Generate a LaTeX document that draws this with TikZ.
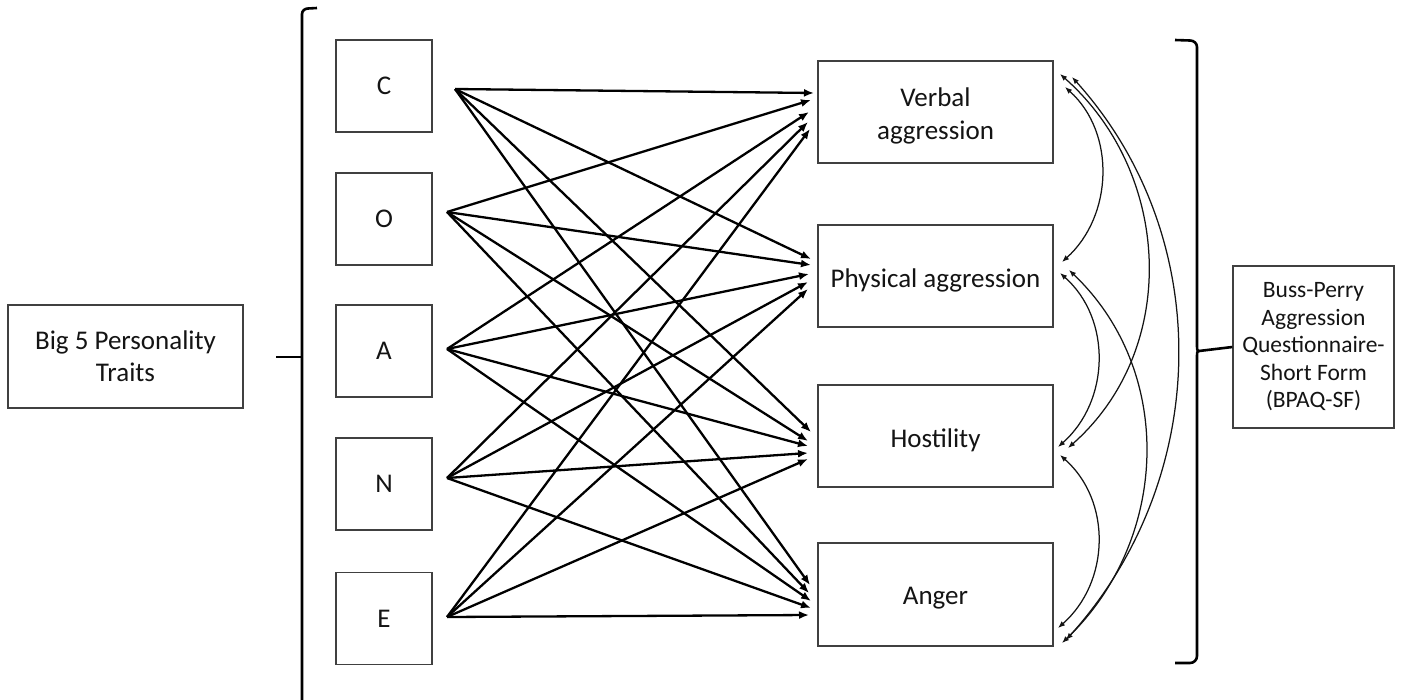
\documentclass[tikz,border=0pt]{standalone}
\usepackage{fontspec}
\setmainfont{Carlito}
\usetikzlibrary{arrows.meta,calc}
\definecolor{boxgray}{HTML}{404040}
\definecolor{txt}{HTML}{141414}
\begin{document}
\begin{tikzpicture}[x=1pt,y=-1pt,
  box/.style={draw=boxgray,line width=1.3pt,fill=white,inner sep=0pt,align=center,
    text=txt,font=\fontsize{27}{32}\selectfont},
  trait/.style={box,minimum width=96pt,minimum height=92pt},
  subscale/.style={box,minimum width=235pt,minimum height=102pt},
  lab/.style={yshift=-4pt,align=center,text=txt,font=\fontsize{27}{33}\selectfont},
  link/.style={line width=2.3pt,-{Latex[length=10pt,width=8pt]}},
  corr/.style={line width=1.25pt,draw=txt,{Latex[length=7pt,width=5.5pt]}-{Latex[length=7pt,width=5.5pt]}},
  bracket/.style={line width=2.6pt,line join=round}]
\useasboundingbox (0,0) rectangle (1406,699);

% outer labels
\node[box,minimum width=235pt,minimum height=103pt] (big) at (125.5,356.5) {Big 5 Personality\\Traits};
\node[box,minimum width=161pt,minimum height=162pt,font=\fontsize{23.5}{27.5}\selectfont] (bpaq) at (1313.5,347)
  {Buss-Perry\\Aggression\\Questionnaire-\\Short Form\\(BPAQ-SF)};

% personality traits
\node[trait] (C) at (384,86) {C};
\node[trait] (O) at (384,219) {O};
\node[trait] (A) at (384,351) {A};
\node[trait] (N) at (384,484) {N};
\node[trait] (E) at (384,618.5) {E};

% aggression subscales
\node[subscale,label={[lab]center:Verbal\\aggression}] (ver) at (935.5,112) {};
\node[subscale,label={[lab]center:Physical aggression}] (phy) at (935.5,276) {};
\node[subscale,label={[lab]center:Hostility}] (hos) at (935.5,436) {};
\node[subscale,minimum height=103pt,label={[lab]center:Anger}] (ang) at (935.5,594.5) {};

% left bracket
\coordinate (lb) at (302,357);
\draw[bracket] (317,8) -- (308,8.5) to[out=180,in=90] (302,14) -- (302,702);
\draw[bracket] (276,357) -- (lb);

% right bracket
\coordinate (rb) at (1199,351);
\draw[bracket] (1175,40) -- (1190,40.5) to[out=0,in=90] (1197,47) -- (1197,345)
  to[out=-90,in=180] (rb) to[out=180,in=90] (1197,357) -- (1197,656)
  to[out=-90,in=0] (1190,663) -- (1175,663);
\draw[bracket] (rb) -- (bpaq.west);

% path origins
\coordinate (sC) at (455,89);
\coordinate (sO) at (447,212);
\coordinate (sA) at (447,349);
\coordinate (sN) at (447,478);
\coordinate (sE) at (447,617);

% arrow ends at the subscales
\coordinate (vC) at (814,93);  \coordinate (vO) at (811,100); \coordinate (vA) at (809,112);
\coordinate (vN) at (808,122); \coordinate (vE) at (810,129);
\coordinate (pC) at (811,259); \coordinate (pO) at (811,265); \coordinate (pA) at (809,274);
\coordinate (pN) at (808,282); \coordinate (pE) at (808,289);
\coordinate (hC) at (811,432); \coordinate (hO) at (808,441); \coordinate (hA) at (808,446);
\coordinate (hN) at (808,453); \coordinate (hE) at (808,459);
\coordinate (aC) at (810,585); \coordinate (aO) at (809,593); \coordinate (aA) at (811,601);
\coordinate (aN) at (811,608); \coordinate (aE) at (809,615);

\foreach \s in {C,O,A,N,E}{
  \foreach \t in {v,p,h,a}{
    \draw[link] (s\s) -- (\t\s);
  }
}

% covariances among subscales
\coordinate (v1) at (1060,74);  \coordinate (v2) at (1072,77);  \coordinate (v3) at (1065,87);
\coordinate (p1) at (1062,262); \coordinate (p2) at (1060,273); \coordinate (p3) at (1069,270);
\coordinate (h1) at (1068,448); \coordinate (h2) at (1058,447); \coordinate (h3) at (1060,455);
\coordinate (a1) at (1058,628); \coordinate (a2) at (1062,643); \coordinate (a3) at (1066,640);

\draw[corr] (v3) .. controls ($(v3)+(51,46)$) and ($(p1)+(51,-46)$) .. (p1);
\draw[corr] (p2) .. controls ($(p2)+(52,46)$) and ($(h2)+(52,-46)$) .. (h2);
\draw[corr] (h3) .. controls ($(h3)+(52,46)$) and ($(a1)+(52,-46)$) .. (a1);
\draw[corr] (v1) .. controls ($(v1)+(112,99)$) and ($(h1)+(112,-99)$) .. (h1);
\draw[corr] (p3) .. controls ($(p3)+(107,102)$) and ($(a2)+(107,-102)$) .. (a2);
\draw[corr] (v2) .. controls ($(v2)+(145,161)$) and ($(a3)+(145,-161)$) .. (a3);
\end{tikzpicture}
\end{document}
